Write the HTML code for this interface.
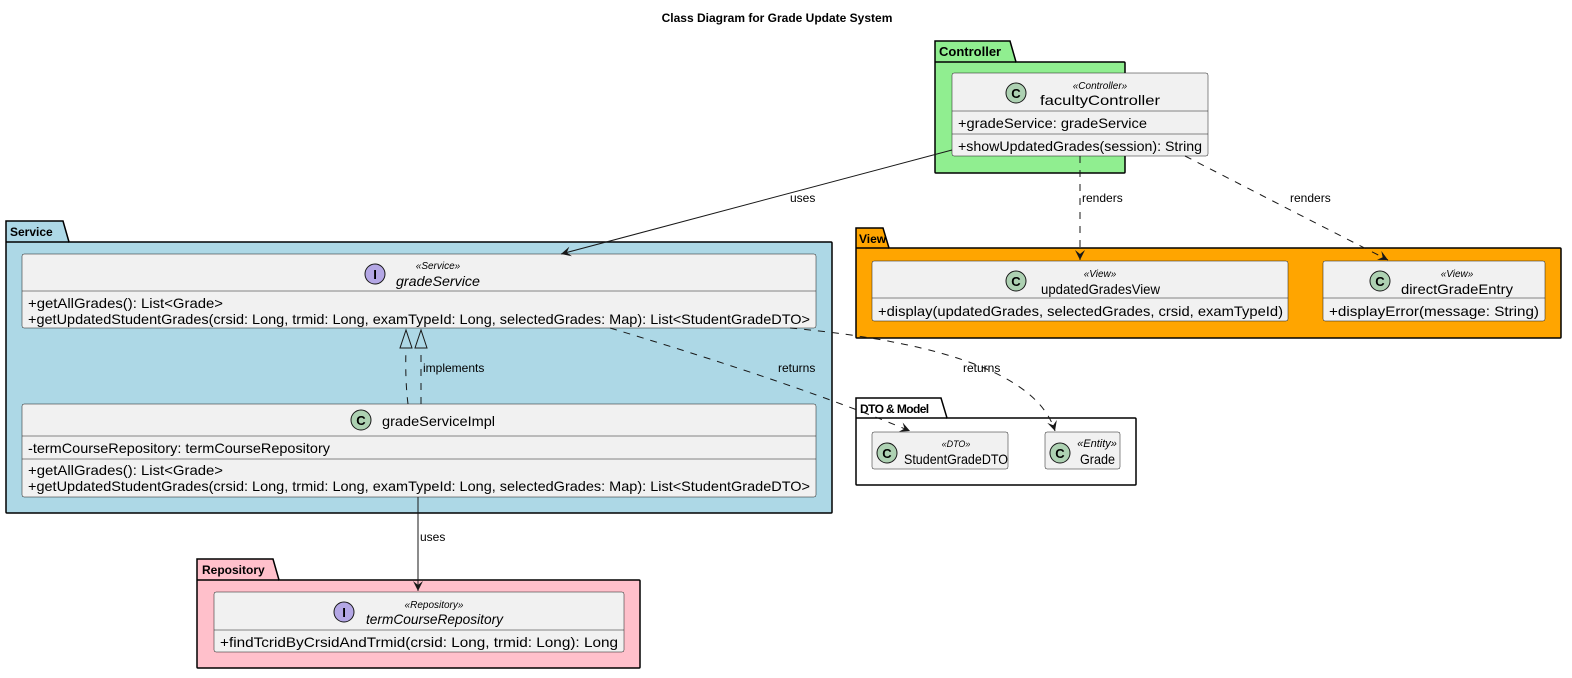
<!DOCTYPE html>
<html><head><meta charset="utf-8"><style>
html,body{margin:0;padding:0;background:#fff;}
svg{display:block;font-family:"Liberation Sans",sans-serif;}
.cls{fill:#f1f1f1;stroke:#181818;stroke-width:0.5;}
.sep{stroke:#181818;stroke-width:0.5;}
.pk{stroke:#000;stroke-width:1.5;}
.t{font-size:14px;fill:#000;}
.st{font-size:10px;font-style:italic;fill:#000;}
.pt{font-size:13px;font-weight:bold;fill:#000;}
.lb{font-size:12px;fill:#000;}
.ln{stroke:#181818;stroke-width:1;fill:none;}
.dl{stroke:#181818;stroke-width:1;fill:none;stroke-dasharray:7,7;}
</style></head><body>
<svg width="1572" height="678" viewBox="0 0 1572 678" xmlns="http://www.w3.org/2000/svg">
<defs>
<marker id="ar" markerWidth="12" markerHeight="10" refX="10" refY="5" orient="auto" markerUnits="userSpaceOnUse">
<path d="M0,0 L10,5 L0,10 L4,5 Z" fill="#181818"/></marker>
</defs>
<text x="777" y="22" text-anchor="middle" style="font-size:12px;font-weight:bold">Class Diagram for Grade Update System</text>

<!-- Controller -->
<path class="pk" fill="#90ee90" d="M935,62 L935,41 L1010,41 L1016,62 L1124,62 Q1125,62 1125,63 L1125,172 Q1125,173 1124,173 L936,173 Q935,173 935,172 Z"/>
<line class="pk" x1="935" y1="62" x2="1016" y2="62"/>
<text class="pt" x="939" y="56">Controller</text>
<rect class="cls" x="952" y="73" width="256" height="83" rx="2"/>
<line class="sep" x1="952" y1="111" x2="1208" y2="111"/>
<line class="sep" x1="952" y1="134" x2="1208" y2="134"/>
<circle cx="1016" cy="93" r="10" fill="#add1b2" stroke="#181818"/><text x="1016" y="98" text-anchor="middle" style="font-size:13px;font-weight:bold">C</text>
<text class="st" x="1100" y="89" text-anchor="middle">«Controller»</text>
<text class="t" x="1040" y="105" textLength="120" lengthAdjust="spacingAndGlyphs">facultyController</text>
<text class="t" x="958" y="128" textLength="189" lengthAdjust="spacingAndGlyphs">+gradeService: gradeService</text>
<text class="t" x="958" y="151" textLength="244" lengthAdjust="spacingAndGlyphs">+showUpdatedGrades(session): String</text>

<!-- View -->
<path class="pk" fill="#ffa500" d="M856,248 L856,228 L883,228 L889,248 L1560,248 Q1561,248 1561,249 L1561,337 Q1561,338 1560,338 L857,338 Q856,338 856,337 Z"/>
<line class="pk" x1="856" y1="248" x2="889" y2="248"/>
<text class="pt" x="859" y="243" style="font-size:12px">View</text>
<rect class="cls" x="872" y="261" width="416" height="60" rx="2"/>
<line class="sep" x1="872" y1="298" x2="1288" y2="298"/>
<circle cx="1016" cy="281" r="10" fill="#add1b2" stroke="#181818"/><text x="1016" y="286" text-anchor="middle" style="font-size:13px;font-weight:bold">C</text>
<text class="st" x="1100" y="277" text-anchor="middle">«View»</text>
<text class="t" x="1041" y="294" textLength="119" lengthAdjust="spacingAndGlyphs">updatedGradesView</text>
<text class="t" x="878" y="316" textLength="405" lengthAdjust="spacingAndGlyphs">+display(updatedGrades, selectedGrades, crsid, examTypeId)</text>
<rect class="cls" x="1323" y="261" width="222" height="60" rx="2"/>
<line class="sep" x1="1323" y1="298" x2="1545" y2="298"/>
<circle cx="1380" cy="281" r="10" fill="#add1b2" stroke="#181818"/><text x="1380" y="286" text-anchor="middle" style="font-size:13px;font-weight:bold">C</text>
<text class="st" x="1457" y="277" text-anchor="middle">«View»</text>
<text class="t" x="1401" y="294" textLength="112" lengthAdjust="spacingAndGlyphs">directGradeEntry</text>
<text class="t" x="1329" y="316" textLength="210" lengthAdjust="spacingAndGlyphs">+displayError(message: String)</text>

<!-- Service -->
<path class="pk" fill="#add8e6" d="M6,242 L6,221 L63,221 L69,242 L831,242 Q832,242 832,243 L832,512 Q832,513 831,513 L7,513 Q6,513 6,512 Z"/>
<line class="pk" x1="6" y1="242" x2="69" y2="242"/>
<text class="pt" x="10" y="236" style="font-size:12px">Service</text>
<rect class="cls" x="22" y="254" width="794" height="74" rx="2"/>
<line class="sep" x1="22" y1="291" x2="816" y2="291"/>
<circle cx="375" cy="274" r="10" fill="#b4a7e5" stroke="#181818"/><text x="375" y="279" text-anchor="middle" style="font-size:13px;font-weight:bold">I</text>
<text class="st" x="438" y="269" text-anchor="middle">«Service»</text>
<text class="t" x="396" y="286" font-style="italic" textLength="84" lengthAdjust="spacingAndGlyphs">gradeService</text>
<text class="t" x="28" y="308" textLength="195" lengthAdjust="spacingAndGlyphs">+getAllGrades(): List&lt;Grade&gt;</text>
<text class="t" x="28" y="324" textLength="782" lengthAdjust="spacingAndGlyphs">+getUpdatedStudentGrades(crsid: Long, trmid: Long, examTypeId: Long, selectedGrades: Map): List&lt;StudentGradeDTO&gt;</text>
<rect class="cls" x="22" y="404" width="794" height="93" rx="2"/>
<line class="sep" x1="22" y1="436" x2="816" y2="436"/>
<line class="sep" x1="22" y1="459" x2="816" y2="459"/>
<circle cx="361" cy="420" r="10" fill="#add1b2" stroke="#181818"/><text x="361" y="425" text-anchor="middle" style="font-size:13px;font-weight:bold">C</text>
<text class="t" x="382" y="426" textLength="113" lengthAdjust="spacingAndGlyphs">gradeServiceImpl</text>
<text class="t" x="28" y="453" textLength="302" lengthAdjust="spacingAndGlyphs">-termCourseRepository: termCourseRepository</text>
<text class="t" x="28" y="475" textLength="195" lengthAdjust="spacingAndGlyphs">+getAllGrades(): List&lt;Grade&gt;</text>
<text class="t" x="28" y="491" textLength="782" lengthAdjust="spacingAndGlyphs">+getUpdatedStudentGrades(crsid: Long, trmid: Long, examTypeId: Long, selectedGrades: Map): List&lt;StudentGradeDTO&gt;</text>

<!-- DTO & Model -->
<path class="pk" fill="#fff" d="M856,418 L856,398 L941,398 L947,418 L1135,418 Q1136,418 1136,419 L1136,484 Q1136,485 1135,485 L857,485 Q856,485 856,484 Z"/>
<line class="pk" x1="856" y1="418" x2="947" y2="418"/>
<text class="pt" x="860" y="413" style="font-size:12px;letter-spacing:-0.6px">DTO &amp; Model</text>
<rect class="cls" x="872" y="432" width="136" height="37" rx="2"/>
<circle cx="887" cy="453" r="10" fill="#add1b2" stroke="#181818"/><text x="887" y="458" text-anchor="middle" style="font-size:13px;font-weight:bold">C</text>
<text class="st" x="956" y="447" text-anchor="middle" style="font-size:9px">«DTO»</text>
<text class="t" x="904" y="464" textLength="104" lengthAdjust="spacingAndGlyphs">StudentGradeDTO</text>
<rect class="cls" x="1045" y="432" width="75" height="37" rx="2"/>
<circle cx="1060" cy="453" r="10" fill="#add1b2" stroke="#181818"/><text x="1060" y="458" text-anchor="middle" style="font-size:13px;font-weight:bold">C</text>
<text class="st" x="1097" y="447" text-anchor="middle" style="font-size:11px">«Entity»</text>
<text class="t" x="1080" y="464" textLength="35" lengthAdjust="spacingAndGlyphs">Grade</text>

<!-- Repository -->
<path class="pk" fill="#ffc0cb" d="M197,580 L197,559 L273,559 L279,580 L639,580 Q640,580 640,581 L640,667 Q640,668 639,668 L198,668 Q197,668 197,667 Z"/>
<line class="pk" x1="197" y1="580" x2="279" y2="580"/>
<text class="pt" x="202" y="574" style="font-size:12px">Repository</text>
<rect class="cls" x="214" y="592" width="410" height="60" rx="2"/>
<line class="sep" x1="214" y1="630" x2="624" y2="630"/>
<circle cx="344" cy="612" r="10" fill="#b4a7e5" stroke="#181818"/><text x="344" y="617" text-anchor="middle" style="font-size:13px;font-weight:bold">I</text>
<text class="st" x="434" y="608" text-anchor="middle">«Repository»</text>
<text class="t" x="366" y="624" font-style="italic" textLength="137" lengthAdjust="spacingAndGlyphs">termCourseRepository</text>
<text class="t" x="220" y="647" textLength="398" lengthAdjust="spacingAndGlyphs">+findTcridByCrsidAndTrmid(crsid: Long, trmid: Long): Long</text>

<!-- Edges -->
<line class="ln" x1="952" y1="150" x2="561" y2="254" marker-end="url(#ar)"/>
<text class="lb" x="790" y="202">uses</text>
<line class="dl" x1="1080" y1="156" x2="1080" y2="260" marker-end="url(#ar)"/>
<text class="lb" x="1082" y="202">renders</text>
<path class="dl" d="M1185,156 Q1300,215 1388,260" marker-end="url(#ar)"/>
<text class="lb" x="1290" y="202">renders</text>
<path class="dl" d="M408,404 Q405,380 406,348"/>
<path class="dl" d="M421,404 L421,348"/>
<polygon points="406,330 400,348 412,348" fill="none" stroke="#181818"/>
<polygon points="421,330 415,348 427,348" fill="none" stroke="#181818"/>
<text class="lb" x="423" y="372">implements</text>
<path class="dl" d="M610,328 Q800,385 910,431" marker-end="url(#ar)"/>
<text class="lb" x="778" y="372">returns</text>
<path class="dl" d="M790,328 Q1030,350 1055,431" marker-end="url(#ar)"/>
<text class="lb" x="963" y="372">returns</text>
<line class="ln" x1="418" y1="497" x2="418" y2="591" marker-end="url(#ar)"/>
<text class="lb" x="420" y="541">uses</text>
</svg>
</body></html>
